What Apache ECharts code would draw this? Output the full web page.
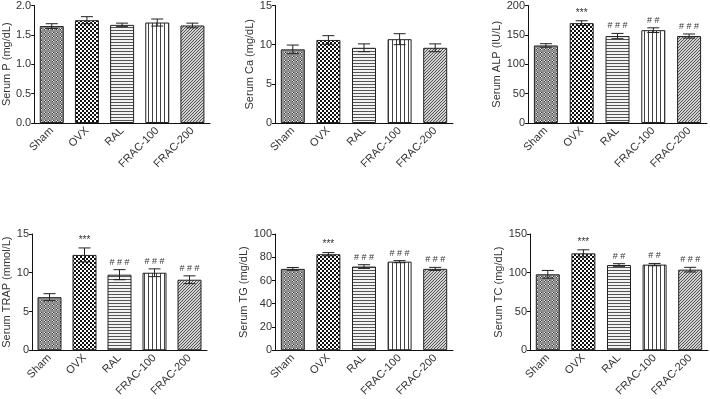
<!DOCTYPE html>
<html>
<head>
<meta charset="utf-8">
<script src="https://cdn.jsdelivr.net/npm/echarts@6/dist/echarts.min.js"></script>
<style>
  html, body { margin: 0; padding: 0; background: #fff; }
  #chart { width: 710px; height: 399px; }
</style>
</head>
<body>
<div id="chart"></div>
<script>
var categories = ['Sham', 'OVX', 'RAL', 'FRAC-100', 'FRAC-200']

// mean and error (SEM) per panel
var pMean = [1.65, 1.75, 1.67, 1.71, 1.66]
var pErr = [0.04, 0.06, 0.03, 0.06, 0.04]
var caMean = [9.4, 10.6, 9.6, 10.7, 9.6]
var caErr = [0.55, 0.55, 0.5, 0.7, 0.5]
var alpMean = [132, 170, 148, 158, 148]
var alpErr = [3, 4, 4.5, 4, 3.5]
var trapMean = [6.85, 12.3, 9.75, 10.0, 9.1]
var trapErr = [0.45, 0.9, 0.65, 0.5, 0.5]
var tgMean = [70.0, 82.6, 72.0, 76.2, 70.0]
var tgErr = [1.2, 1.4, 1.6, 0.9, 1.3]
var tcMean = [98, 125, 110, 110.5, 104]
var tcErr = [5, 4.6, 1.7, 1.5, 3]

// significance marks
var noSig = ['', '', '', '', '']
var alpSig = ['', '***', '# # #', '# #', '# # #']
var trapSig = ['', '***', '# # #', '# # #', '# # #']
var tgSig = ['', '***', '# # #', '# # #', '# # #']
var tcSig = ['', '***', '# #', '# #', '# # #']

// axis names and ranges
var yNames = ['Serum P (mg/dL)', 'Serum Ca (mg/dL)', 'Serum ALP (IU/L)', 'Serum TRAP (mmol/L)', 'Serum TG (mg/dL)', 'Serum TC (mg/dL)']
var yMax = [2.0, 15, 200, 15, 100, 150]
var yInterval = [0.5, 5, 50, 5, 20, 50]

var panels = [
    { mean: pMean, err: pErr, sig: noSig },
    { mean: caMean, err: caErr, sig: noSig },
    { mean: alpMean, err: alpErr, sig: alpSig },
    { mean: trapMean, err: trapErr, sig: trapSig },
    { mean: tgMean, err: tgErr, sig: tgSig },
    { mean: tcMean, err: tcErr, sig: tcSig }
]

// grid boxes (px)
var grids = [
    { left: 32, top: 5, width: 178, height: 118 },
    { left: 275, top: 5, width: 178, height: 118 },
    { left: 528, top: 5, width: 179, height: 118 },
    { left: 29, top: 234, width: 178, height: 119 },
    { left: 275, top: 234, width: 178, height: 119 },
    { left: 530, top: 234, width: 178, height: 119 }
]
var nameGaps = [21, 19, 23, 20, 22, 23]

var fontFamily = 'Liberation Sans, Arial, sans-serif'
var textColor = '#333'

function makeTile(w, h, bg, draw) {
    var c = document.createElement('canvas')
    c.width = w
    c.height = h
    var ctx = c.getContext('2d')
    ctx.fillStyle = bg
    ctx.fillRect(0, 0, w, h)
    draw(ctx)
    return { image: c, repeat: 'repeat' }
}

var patterns = [
    // Sham: gray dither with small checks
    makeTile(4, 4, '#8f8f8f', function (ctx) {
        ctx.fillStyle = '#e8e8e8'
        ctx.fillRect(0, 0, 1, 1)
        ctx.fillRect(1, 1, 1, 1)
        ctx.fillStyle = '#3a3a3a'
        ctx.fillRect(1, 0, 1, 1)
        ctx.fillRect(0, 1, 1, 1)
    }),
    // OVX: black/white checker
    makeTile(4, 4, '#ffffff', function (ctx) {
        ctx.fillStyle = '#111'
        ctx.fillRect(0, 0, 2, 2)
        ctx.fillRect(2, 2, 2, 2)
    }),
    // RAL: horizontal lines
    makeTile(1, 3, '#f2f2f2', function (ctx) {
        ctx.fillStyle = '#555'
        ctx.fillRect(0, 0, 1, 1)
    }),
    // FRAC-100: vertical lines
    makeTile(4, 1, '#ffffff', function (ctx) {
        ctx.fillStyle = '#444'
        ctx.fillRect(0, 0, 1, 1)
    }),
    // FRAC-200: diagonal hatch
    makeTile(3, 3, '#d0d0d0', function (ctx) {
        ctx.fillStyle = '#555'
        ctx.fillRect(2, 0, 1, 1)
        ctx.fillRect(1, 1, 1, 1)
        ctx.fillRect(0, 2, 1, 1)
    })
]

var option = {
    backgroundColor: '#fff',
    animation: false,
    grid: [],
    xAxis: [],
    yAxis: [],
    series: []
}

panels.forEach(function (p, i) {
    option.grid.push(grids[i])
    option.xAxis.push({
        type: 'category',
        gridIndex: i,
        data: categories,
        axisLine: { lineStyle: { color: '#111', width: 1 } },
        axisTick: { alignWithLabel: true, length: 4, lineStyle: { color: '#111' } },
        axisLabel: {
            rotate: 45,
            margin: 6,
            fontSize: 11,
            color: textColor,
            fontFamily: fontFamily,
            interval: 0
        },
        splitLine: { show: false }
    })
    option.yAxis.push({
        type: 'value',
        gridIndex: i,
        min: 0,
        max: yMax[i],
        interval: yInterval[i],
        name: yNames[i],
        nameLocation: 'middle',
        nameGap: nameGaps[i],
        nameTextStyle: { fontSize: 11, color: textColor, fontFamily: fontFamily },
        axisLine: { show: true, lineStyle: { color: '#111', width: 1 } },
        axisTick: { show: true, length: 3, lineStyle: { color: '#111' } },
        axisLabel: {
            fontSize: 11,
            color: textColor,
            margin: 3,
            fontFamily: fontFamily,
            formatter: i === 0 ? function (v) { return v.toFixed(1) } : '{value}'
        },
        splitLine: { show: false }
    })
    option.series.push({
        type: 'bar',
        xAxisIndex: i,
        yAxisIndex: i,
        barWidth: 24,
        data: p.mean.map(function (v, k) {
            return {
                value: v,
                itemStyle: { color: patterns[k], borderColor: '#222', borderWidth: 1 }
            }
        })
    })
    option.series.push({
        type: 'custom',
        xAxisIndex: i,
        yAxisIndex: i,
        z: 5,
        data: p.mean.map(function (v, k) { return [k, v, p.err[k], p.sig[k]] }),
        encode: { x: 0, y: 1 },
        renderItem: function (params, api) {
            var k = api.value(0)
            var m = api.value(1)
            var e = api.value(2)
            var hi = api.coord([k, m + e])
            var lo = api.coord([k, m - e])
            var cap = 6
            var style = { stroke: '#222', lineWidth: 1 }
            var children = [
                { type: 'line', shape: { x1: hi[0], y1: hi[1], x2: lo[0], y2: lo[1] }, style: style },
                { type: 'line', shape: { x1: hi[0] - cap, y1: hi[1], x2: hi[0] + cap, y2: hi[1] }, style: style },
                { type: 'line', shape: { x1: lo[0] - cap, y1: lo[1], x2: lo[0] + cap, y2: lo[1] }, style: style }
            ]
            var s = panels[i].sig[params.dataIndex]
            if (s) {
                children.push({
                    type: 'text',
                    x: hi[0],
                    y: hi[1] - 3,
                    style: {
                        text: s,
                        fill: '#333',
                        font: (s === '***' ? '10px ' : '9px ') + fontFamily,
                        align: 'center',
                        verticalAlign: 'bottom'
                    }
                })
            }
            return { type: 'group', children: children }
        }
    })
})

var myChart = echarts.init(document.getElementById('chart'))
myChart.setOption(option)
</script>
</body>
</html>
